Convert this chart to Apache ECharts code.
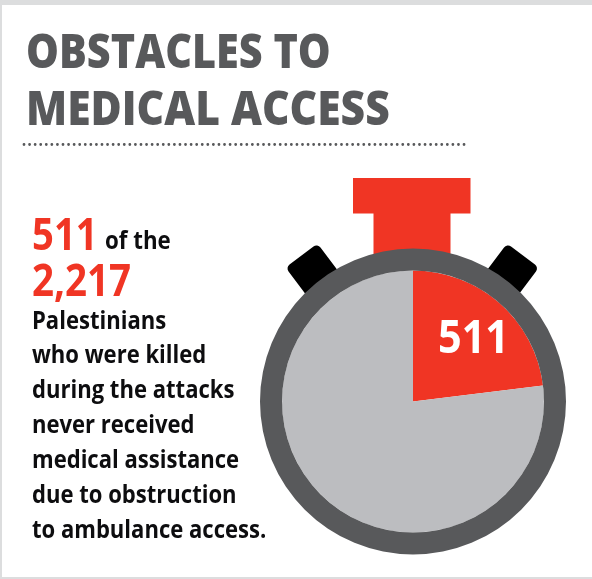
<!DOCTYPE html>
<html>
<head>
<meta charset="utf-8">
<style>html,body{margin:0;padding:0;background:#fff}#main{width:592px;height:579px}</style>
<script src="https://cdn.jsdelivr.net/npm/echarts@6/dist/echarts.min.js"></script>
</head>
<body>
<div id="main"></div>
<script>
// Figures shown on the stopwatch dial and in the caption
const killedTotal = 2217;
const noAssistance = 511;
const titleLines = ['OBSTACLES TO', 'MEDICAL ACCESS'];
const captionLines = ['Palestinians', 'who were killed', 'during the attacks', 'never received', 'medical assistance', 'due to obstruction', 'to ambulance access.'];

const RED = '#f03524', DARK = '#58595b', GREY = '#bcbdc0', FRAME = '#dcddde', INK = '#0d0d0f';
const FONT = '"Open Sans", "Noto Sans", sans-serif';
const cx = 413, cy = 401.5;

const fmt = n => n.toLocaleString('en-US');

// Horizontally condensed heavy text placed by its baseline
function label(text, x, baseline, size, fill, squeeze, weight) {
  return {
    type: 'text', z: 10, x, y: baseline - size * 0.27, scaleX: squeeze,
    style: {text, fill, font: (weight || 700) + ' ' + size + 'px ' + FONT, verticalAlign: 'middle'}
  };
}

const chart = echarts.init(document.getElementById('main'), null, {renderer: 'canvas'});

const captionBase = [328.5, 363, 398, 432.5, 467.5, 502.5, 537.5];
const titleBase = [67, 124];
const titleSqueeze = [0.88, 0.906];

chart.setOption({
  animation: false,
  backgroundColor: '#fff',
  series: [
    {
      // Dial: red wedge for those denied assistance, clockwise from twelve o'clock
      type: 'pie', z: 3, silent: true, clockwise: true, startAngle: 90,
      center: [cx, cy], radius: [0, 131],
      itemStyle: {borderWidth: 0},
      label: {show: false}, labelLine: {show: false},
      data: [
        {value: noAssistance, itemStyle: {color: RED}},
        {value: killedTotal - noAssistance, itemStyle: {color: GREY}}
      ]
    },
    {
      // Watch case
      type: 'pie', z: 4, silent: true,
      center: [cx, cy], radius: [131, 153],
      label: {show: false}, labelLine: {show: false},
      itemStyle: {color: DARK},
      data: [{value: 1}]
    }
  ],
  graphic: {
    elements: [
      // Page frame
      {type: 'rect', z: 0, shape: {x: 0, y: 0, width: 592, height: 5}, style: {fill: FRAME}},
      {type: 'rect', z: 0, shape: {x: 0, y: 0, width: 2, height: 579}, style: {fill: FRAME}},
      {type: 'rect', z: 0, shape: {x: 0, y: 577, width: 592, height: 2}, style: {fill: FRAME}},
      // Title and dotted rule
      ...titleLines.map((t, i) => label(t, 26, titleBase[i], 47, DARK, titleSqueeze[i], 800)),
      {
        type: 'line', z: 10,
        shape: {x1: 24, y1: 144.5, x2: 469, y2: 144.5},
        style: {stroke: '#58595b', lineWidth: 2.8, lineCap: 'round', lineDash: [0.01, 5.56]}
      },
      // Crown of the stopwatch
      {type: 'rect', z: 1, shape: {x: 353, y: 178, width: 117.5, height: 35.5}, style: {fill: RED}},
      {type: 'rect', z: 1, shape: {x: 373.5, y: 210, width: 77, height: 50}, style: {fill: RED}},
      // Side pushers
      {
        type: 'rect', z: 1, x: 301.5, y: 255.5, rotation: Math.PI / 180 * 37,
        shape: {x: -20, y: 0, width: 40, height: 50, r: 5}, style: {fill: '#000'}
      },
      {
        type: 'rect', z: 1, x: 523, y: 255.5, rotation: -Math.PI / 180 * 37,
        shape: {x: -20, y: 0, width: 40, height: 50, r: 5}, style: {fill: '#000'}
      },
      // Figure on the red wedge
      label(fmt(noAssistance), 438, 352, 46, '#fff', 0.9),
      // Caption headline figures
      label(fmt(noAssistance), 32, 249, 44, RED, 0.87),
      label('of the', 105, 249, 24.5, INK, 0.91),
      label(fmt(killedTotal), 32, 295, 44, RED, 0.875),
      ...captionLines.map((t, i) => label(t, 32, captionBase[i], 24.5, INK, 0.9))
    ]
  }
});
</script>
</body>
</html>
